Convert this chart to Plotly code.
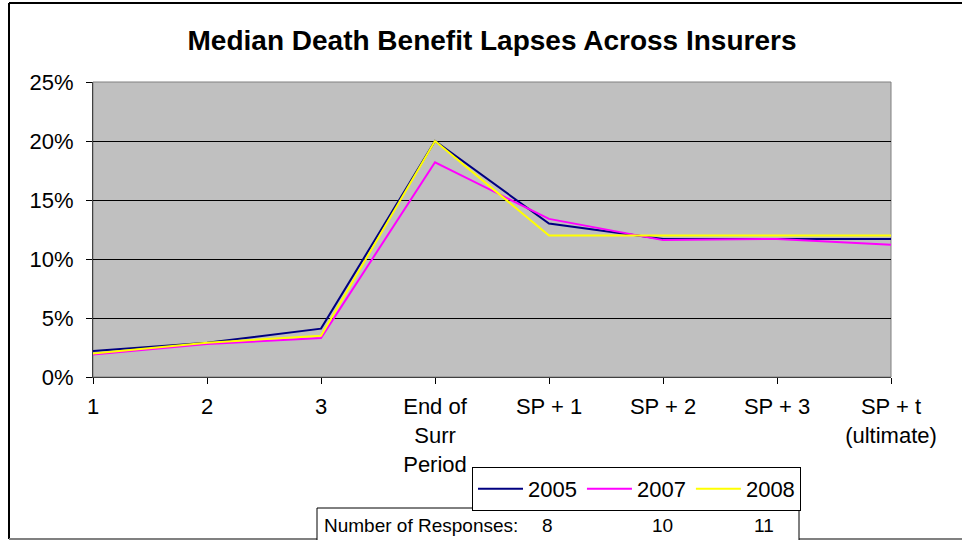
import plotly.graph_objects as go

# Policy-year buckets along the x axis
categories = ["1", "2", "3", "End of<br>Surr<br>Period", "SP + 1", "SP + 2", "SP + 3", "SP + t<br>(ultimate)"]

# Median death benefit lapse rates (fractions) by survey year
lapse_2005 = [0.022, 0.029, 0.041, 0.200, 0.130, 0.117, 0.117, 0.117]
lapse_2007 = [0.019, 0.028, 0.033, 0.182, 0.134, 0.116, 0.117, 0.112]
lapse_2008 = [0.020, 0.029, 0.035, 0.200, 0.120, 0.120, 0.120, 0.120]

years = ["2005", "2007", "2008"]
responses = [8, 10, 11]
colors = ["#000080", "#FF00FF", "#FFFF00"]

W, H = 962, 540
L, R, T, B = 93, 891, 82, 377  # plot-area edges in pixels


def px(x):
    return (x - L) / (R - L)


def py(y):
    return (B - y) / (B - T)


FONT = "Arial, Liberation Sans, sans-serif"

fig = go.Figure()
xs = list(range(len(categories)))
for name, vals, col in zip(years, [lapse_2005, lapse_2007, lapse_2008], colors):
    fig.add_trace(go.Scatter(x=xs, y=vals, mode="lines", name=name,
                             line=dict(color=col, width=2)))

fig.update_layout(
    width=W, height=H,
    margin=dict(l=L, r=W - R, t=T, b=H - B, autoexpand=False),
    paper_bgcolor="white",
    plot_bgcolor="#C0C0C0",
    font=dict(family=FONT, size=22, color="black"),
    title=dict(text="<b>Median Death Benefit Lapses Across Insurers</b>",
               x=0.5, xref="paper", xanchor="center",
               y=1 - 40 / H, yanchor="middle", yref="container",
               font=dict(family=FONT, size=28, color="black")),
    xaxis=dict(range=[0, len(categories) - 1], tickvals=xs, ticktext=categories,
               showgrid=False, zeroline=False, showline=True, linecolor="#404040",
               linewidth=1, ticks="outside", ticklen=6, tickcolor="black",
               ticklabelstandoff=4, fixedrange=True),
    yaxis=dict(range=[0, 0.25], dtick=0.05, tickformat=".0%", showgrid=True,
               gridcolor="black", gridwidth=1, zeroline=False, showline=True,
               linecolor="#404040", linewidth=1, ticks="outside", ticklen=6,
               tickcolor="black", ticklabelstandoff=8, fixedrange=True),
    legend=dict(orientation="h", x=px(472), y=py(467), xanchor="left", yanchor="top",
                bgcolor="white", bordercolor="black", borderwidth=1,
                font=dict(family=FONT, size=22, color="black"),
                itemwidth=45, traceorder="normal"),
    showlegend=True,
)

shapes = []
# gray border around the plot area (right and top)
shapes.append(dict(type="rect", xref="paper", yref="paper", x0=0, x1=1, y0=0, y1=1,
                   line=dict(color="#808080", width=1), layer="below"))
# outer chart frame
shapes.append(dict(type="line", xref="paper", yref="paper", x0=px(9), x1=px(962),
                   y0=py(3), y1=py(3), line=dict(color="black", width=2)))
shapes.append(dict(type="line", xref="paper", yref="paper", x0=px(9), x1=px(9),
                   y0=py(3), y1=py(539), line=dict(color="black", width=2)))
shapes.append(dict(type="line", xref="paper", yref="paper", x0=px(9), x1=px(962),
                   y0=py(539), y1=py(539), line=dict(color="#808080", width=2)))
# response-count table box
shapes.append(dict(type="rect", xref="paper", yref="paper", x0=px(317), x1=px(799),
                   y0=py(508), y1=py(545), line=dict(color="black", width=1),
                   fillcolor="white"))
fig.update_layout(shapes=shapes)

ann = [dict(text="Number of Responses:", xref="paper", yref="paper", x=px(322), y=py(525),
            xanchor="left", yanchor="middle", showarrow=False,
            font=dict(family=FONT, size=19, color="black"))]
for xc, n in zip([547, 662, 764], responses):
    ann.append(dict(text=str(n), xref="paper", yref="paper", x=px(xc), y=py(525),
                    xanchor="center", yanchor="middle", showarrow=False,
                    font=dict(family=FONT, size=19, color="black")))
fig.update_layout(annotations=ann)

fig.write_html("out.html")
